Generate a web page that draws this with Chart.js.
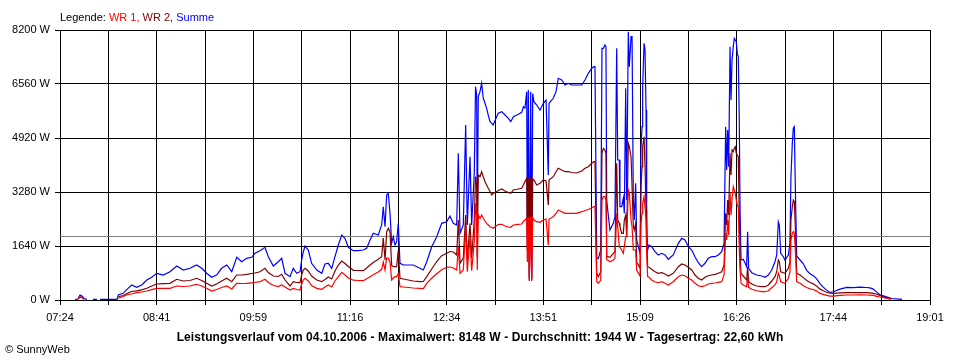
<!DOCTYPE html>
<html><head><meta charset="utf-8">
<script src="https://cdn.jsdelivr.net/npm/chart.js@4.4.1/dist/chart.umd.min.js"></script>
<style>
html,body{margin:0;padding:0;background:#fff;}
#wrap{position:relative;width:960px;height:360px;overflow:hidden;font-family:"Liberation Sans",Arial,sans-serif;color:#000;}
#c{position:absolute;left:0;top:0;}
.lg{position:absolute;left:60px;top:10px;font-size:11px;line-height:14px;white-space:nowrap;}
.ft{position:absolute;left:0;width:960px;top:330px;text-align:center;font-size:12px;letter-spacing:0.1px;font-weight:bold;line-height:14px;white-space:nowrap;}
.cp{position:absolute;left:5px;top:342px;font-size:11px;line-height:14px;white-space:nowrap;}
</style></head>
<body>
<div id="wrap">
<canvas id="c" width="960" height="360"></canvas>
<div class="lg">Legende: <span style="color:#ff0000">WR 1,</span> <span style="color:#800000">WR 2,</span> <span style="color:#0000ff">Summe</span></div>
<div class="ft">Leistungsverlauf vom 04.10.2006 - Maximalwert: 8148 W - Durchschnitt: 1944 W - Tagesertrag: 22,60 kWh</div>
<div class="cp">© SunnyWeb</div>
</div>
<script>
// Tick labels (clock times) and y ticks (W)
const timeLabels = ["07:24","08:41","09:59","11:16","12:34","13:51","15:09","16:26","17:44","19:01"];
const yTicks = [0,1640,3280,4920,6560,8200];
const average = 1944; // Durchschnitt in W

// minutes after 07:24
const minutes = [12.0,14.4,16.0,17.6,19.2,21.6,23.2,26.4,29.6,30.4,32.0,45.7,
46.7,50.5,54.5,57.4,61.4,65.5,69.5,73.5,77.5,82.8,88.1,93.5,98.8,104.1,109.5,113.5,117.5,121.5,125.5,129.5,133.6,137.6,141.6,145.6,149.6,153.6,156.2,160.2,164.2,166.9,170.9,174.9,177.6,180.3,184.3,
186.9,189.6,192.3,193.6,194.9,196.3,198.9,201.6,205.7,209.7,212.3,214.9,217.7,220.3,223.0,225.7,228.3,231.0,235.0,239.0,243.0,245.7,248.4,251.0,255.0,257.7,259.0,260.4,261.7,263.0,264.4,265.7,267.0,268.4,269.7,271.0,272.4,275.0,283.0,288.4,291.1,293.8,297.8,301.8,305.8,309.8,312.4,315.1,317.8,319.1,320.5,323.1,325.0,326.3,328.5,329.8,331.9,332.9,333.8,334.3,335.1,336.5,337.8,339.1,340.5,341.8,343.1,344.5,345.9,347.1,348.7,351.1,353.9,356.5,359.2,361.1,363.2,367.2,369.9,371.2,372.5,373.9,374.4,375.2,376.0,377.1,377.9,378.7,379.7,381.9,384.6,387.2,389.4,391.2,391.8,395.2,397.4,399.2,401.9,404.6,407.2,409.9,413.9,418.0,420.6,423.3,426.0,427.8,
428.6,430.0,431.3,433.2,434.2,435.3,436.6,437.4,438.0,438.8,440.6,443.3,444.6,446.0,446.8,448.1,448.6,450.0,451.3,452.1,453.2,454.0,455.3,456.1,457.5,458.3,459.3,460.1,461.2,462.0,464.7,465.5,466.3,466.8,467.9,468.7,469.5,470.0,470.8,471.9,474.0,476.7,479.3,482.1,484.7,487.3,491.3,495.4,498.1,500.7,503.4,506.1,508.7,511.4,514.1,516.7,519.4,522.1,524.8,527.4,530.1,532.0,533.3,534.1,534.9,535.7,536.8,537.6,538.4,539.4,540.2,541.0,541.8,542.6,543.4,544.2,544.8,545.6,547.4,550.1,550.9,551.7,554.2,558.2,562.2,564.8,567.5,570.2,572.8,574.2,575.5,576.3,577.4,579.5,580.8,583.5,584.8,585.6,586.7,587.5,588.3,589.1,590.2,592.9,595.5,598.2,600.9,603.5,606.2,608.9,611.5,614.2,616.9,619.5,624.9,630.3,635.6,640.9,646.3,648.9,651.6,654.3,656.9,660.9,665.8,666.5,674.6];

// WR 1 (W)
const wr1 = [null,30,100,76,21,null,null,null,null,null,null,null,
52,106,167,182,222,243,273,313,355,355,355,425,410,425,477,425,355,273,319,380,425,334,507,501,507,522,531,556,629,531,440,410,456,395,304,
355,319,304,486,607,659,577,440,355,325,395,456,395,577,708,841,759,668,601,592,586,647,708,768,850,932,1154,911,1276,1276,1154,607,668,708,708,800,404,395,364,355,349,507,659,799,920,993,1002,972,911,1619,811,911,2226,859,1922,890,1771,2937,2530,911,2581,2481,2581,2481,2399,2329,2278,2226,2202,2178,2232,2293,2299,2247,2217,2208,2278,2299,2308,2378,2430,2481,1154,2530,577,2530,577,2500,2430,2378,2360,2430,2460,1670,2460,2530,2633,2733,2682,2633,2633,2633,2633,2682,2718,2748,2803,2834,
2834,556,507,607,3037,3137,3137,3037,1215,1215,1163,1215,1266,2633,2226,1619,1619,1519,1418,1619,1922,1922,3341,3240,2430,2226,1519,1519,1519,911,729,2329,2633,2937,3137,2834,2430,1418,708,689,607,547,525,556,507,456,556,708,759,738,659,607,507,434,404,434,486,507,516,538,556,759,2026,1822,2430,1974,3240,2581,3089,3441,3341,3240,3037,2885,2834,1519,911,507,456,404,708,386,325,282,252,252,282,374,456,556,811,729,556,525,507,659,850,1822,2026,2074,2026,1519,556,507,430,380,340,320,270,200,170,140,120,115,140,152,152,155,152,150,140,110,90,60,25,null,null];

// WR 2 (W)
const wr2 = [null,30,91,76,30,null,null,null,null,null,null,null,
100,137,213,258,279,310,355,425,486,498,507,629,577,592,659,592,507,425,486,577,659,556,759,759,780,805,820,859,963,835,729,714,780,607,425,
556,531,525,759,911,963,881,729,607,556,623,699,638,881,1063,1184,1109,1017,902,896,890,972,1063,1139,1236,1315,1883,1215,2065,2178,2065,1050,1011,1011,1011,1500,659,638,577,556,562,708,941,1169,1345,1418,1473,1458,1367,2430,1115,1276,2581,1215,2329,1266,2430,3745,3493,1315,3796,3745,3896,3745,3593,3493,3392,3295,3189,3240,3265,3326,3371,3310,3265,3240,3341,3371,3392,3493,3593,3696,1519,3696,607,3696,607,3675,3644,3493,3544,3644,3614,2885,3644,3745,3896,4000,3948,3896,3896,3872,3857,3918,4000,4048,4152,4200,
4200,811,708,859,4455,4607,4556,4455,1315,1315,1297,1418,1467,4152,2430,2329,2226,2026,2026,2430,2581,1922,4759,4656,4352,3441,2247,2126,2329,1154,972,3441,4048,4656,4959,4048,2733,1922,1011,993,932,859,811,829,790,729,811,1011,1093,1063,993,911,759,659,607,689,738,759,780,811,859,1063,2633,2278,3037,2581,4455,3796,4556,4504,4607,4656,4455,4404,4352,2530,1418,811,729,607,1011,556,486,425,404,404,456,577,708,859,1215,1154,859,829,811,963,1154,2430,2834,3037,2985,2226,811,759,680,590,530,490,420,330,280,235,205,200,215,222,222,225,222,215,200,175,140,80,30,null,null];

// Summe (W)
const summe = [21,30,152,121,46,21,null,21,21,null,21,21,
152,203,355,456,386,456,607,689,811,759,859,1033,911,963,1063,963,811,689,759,963,1063,859,1297,1163,1266,1297,1418,1497,1600,1315,1033,1163,1266,811,708,
963,811,859,1215,1458,1640,1519,1115,911,811,1093,1115,963,1315,1670,1974,1874,1600,1497,1497,1519,1570,1822,2026,1974,2278,2834,2226,3189,3240,2633,1722,1922,1670,1771,2329,1115,1063,1063,963,911,1163,1619,1922,2329,2378,2551,2329,2278,4455,2026,2278,5315,2278,4352,2278,3848,6478,6226,2278,6174,6326,6581,6126,5974,5822,5618,5415,5366,5315,5467,5670,5719,5618,5518,5415,5567,5640,5700,5870,5831,6326,1874,6378,659,6326,659,6275,6022,5922,5770,5974,6074,3796,5974,6126,6326,6733,6681,6530,6581,6530,6530,6530,6681,6884,7037,7086,
7086,1266,1266,1519,7644,7644,7744,7693,3037,2733,2126,2329,2530,7644,4252,4252,2834,2834,3089,2633,6430,3037,8148,7086,7997,7997,3037,2430,3544,1822,1418,4656,5263,6478,7796,7593,5770,2278,1519,1670,1619,1467,1367,1418,1367,1236,1367,1722,1874,1822,1619,1519,1315,1133,1011,1115,1266,1315,1315,1367,1467,1722,5263,3948,5163,4048,7693,6074,7289,7693,7948,7896,7845,7492,7389,5467,2834,1215,1236,1011,2074,963,829,759,729,689,759,911,1163,1367,2378,2278,1418,1315,1215,1367,1722,3745,4759,5215,5263,3441,1336,1215,1100,900,800,740,640,500,390,300,230,250,330,385,375,390,380,370,330,240,160,110,50,45,20];

function toMin(s){const p=s.split(':').map(Number);return p[0]*60+p[1];}
const span = toMin(timeLabels[timeLabels.length-1]) - toMin(timeLabels[0]);
const gridDivs = (timeLabels.length - 1) * 2;
const pts = arr => minutes.map((m,i) => ({x:m, y:arr[i]}));

Chart.defaults.font.family = '"Liberation Sans", Arial, sans-serif';
Chart.defaults.font.size = 11;
Chart.defaults.color = '#000';

// horizontal average line, positioned through the y scale, drawn under the curves
const averageLine = {
  id: 'averageLine',
  beforeDatasetsDraw(chart) {
    const {ctx, chartArea, scales} = chart;
    const y = Math.round(scales.y.getPixelForValue(average)) + 0.5;
    ctx.save();
    ctx.strokeStyle = '#808080';
    ctx.lineWidth = 1;
    ctx.beginPath();
    ctx.moveTo(chartArea.left, y);
    ctx.lineTo(chartArea.right, y);
    ctx.stroke();
    ctx.restore();
  }
};

new Chart(document.getElementById('c').getContext('2d'), {
  type: 'line',
  data: {
    datasets: [
      {label:'WR 1', data:pts(wr1), borderColor:'#ff0000', borderWidth:1.2},
      {label:'WR 2', data:pts(wr2), borderColor:'#800000', borderWidth:1.2},
      {label:'Summe', data:pts(summe), borderColor:'#0000ff', borderWidth:1.2}
    ]
  },
  plugins: [averageLine],
  options: {
    responsive:false, animation:false, devicePixelRatio:1,
    spanGaps:false,
    elements:{point:{radius:0}, line:{tension:0, fill:false}},
    layout:{padding:{top:30, right:30, left:0, bottom:0}},
    plugins:{legend:{display:false}, tooltip:{enabled:false}},
    scales:{
      x:{
        type:'linear', min:0, max:span,
        afterBuildTicks: s => { s.ticks = Array.from({length:gridDivs+1}, (_,i) => ({value:i*span/gridDivs})); },
        afterFit: s => { s.height = 60; },
        ticks:{autoSkip:false, maxRotation:0, minRotation:0, padding:6, color:'#000',
          callback:(v,i) => (i % 2 === 0 ? timeLabels[i/2] : '')},
        grid:{color:'#000', lineWidth:1, tickLength:5, drawTicks:true},
        border:{color:'#000', width:1}
      },
      y:{
        min:0, max:8200,
        afterBuildTicks: s => { s.ticks = yTicks.map(v => ({value:v})); },
        afterFit: s => { s.width = 60; },
        ticks:{padding:5, color:'#000', callback:v => v + ' W'},
        grid:{color:'#000', lineWidth:1, tickLength:5, drawTicks:true},
        border:{color:'#000', width:1}
      }
    }
  }
});
</script>
</body></html>
